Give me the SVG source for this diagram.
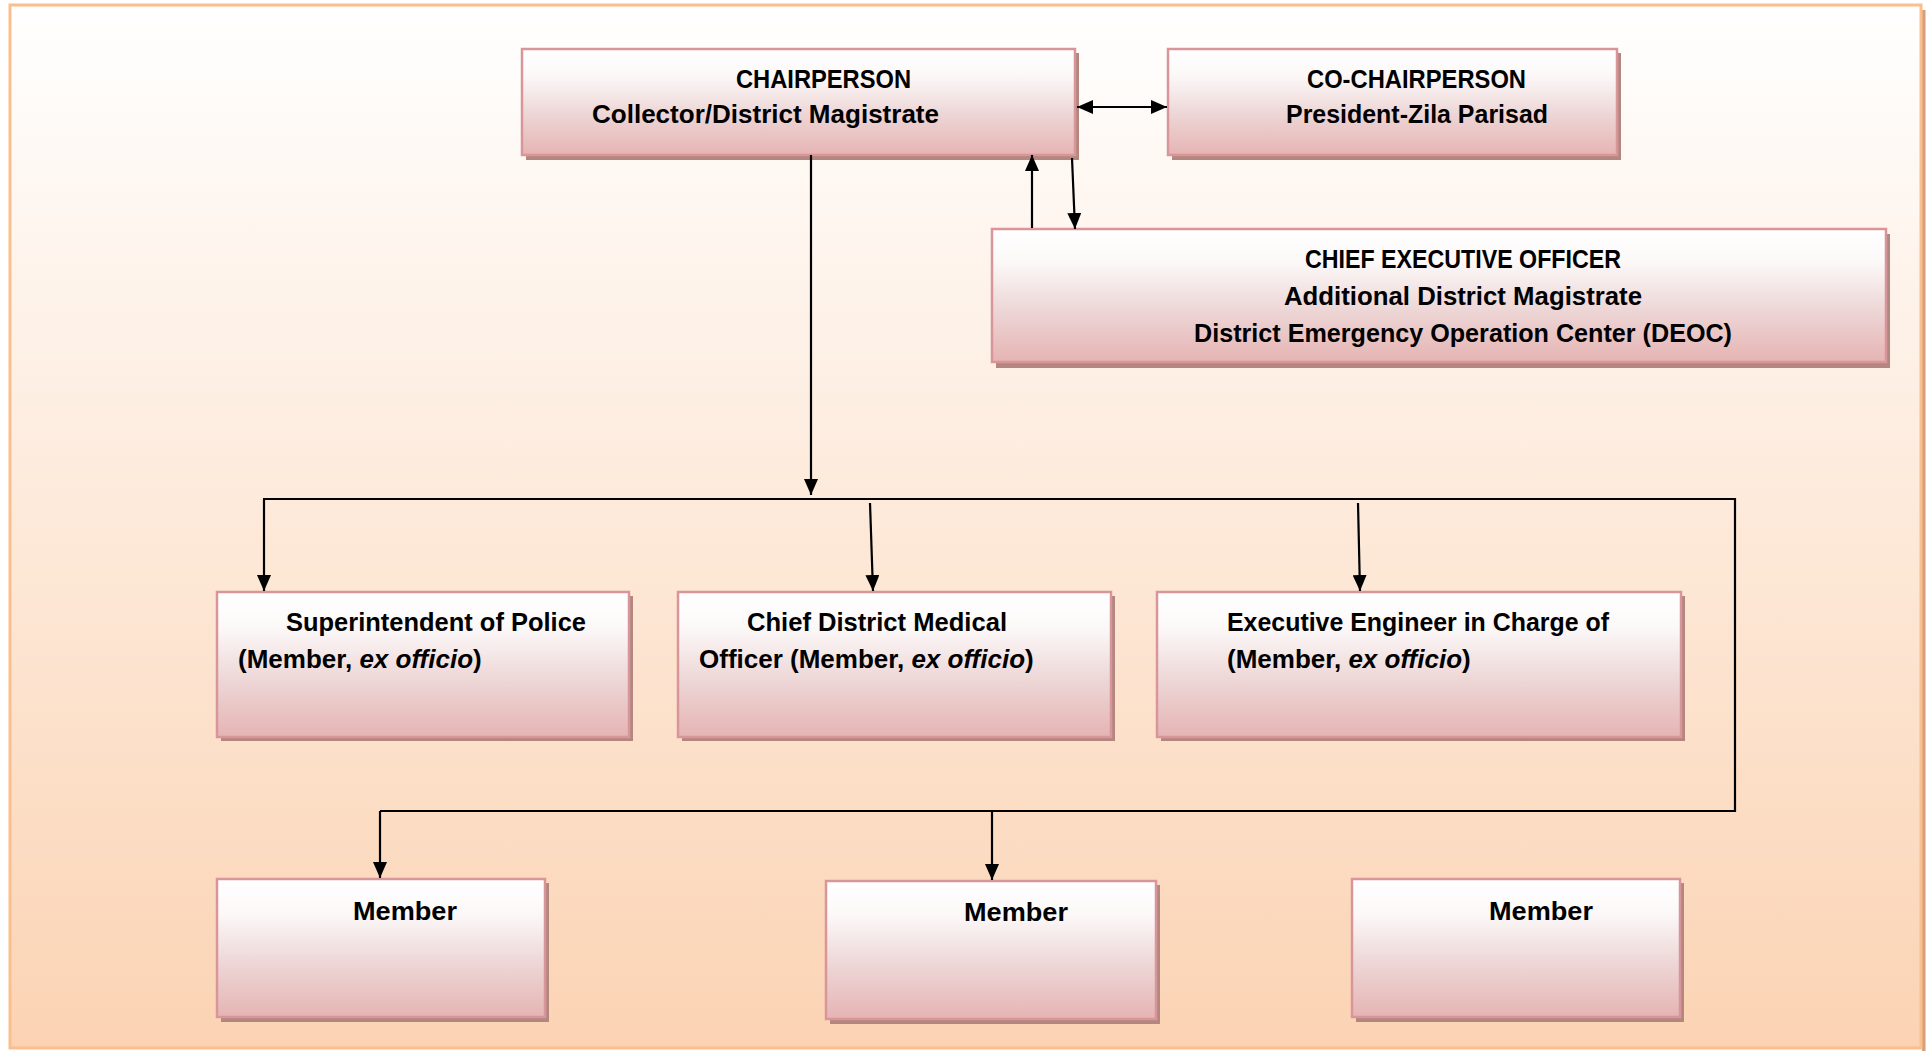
<svg xmlns="http://www.w3.org/2000/svg" width="1930" height="1051" viewBox="0 0 1930 1051">
  <defs>
    <linearGradient id="bg" x1="0" y1="0" x2="0" y2="1">
      <stop offset="0" stop-color="#ffffff"/>
      <stop offset="1" stop-color="#fbd3b3"/>
    </linearGradient>
    <linearGradient id="boxfill" x1="0" y1="0" x2="0" y2="1">
      <stop offset="0" stop-color="#ffffff"/>
      <stop offset="0.25" stop-color="#fcf8f8"/>
      <stop offset="0.6" stop-color="#eed7d7"/>
      <stop offset="1" stop-color="#e5b4b3"/>
    </linearGradient>
    <marker id="arr" viewBox="0 0 16 14" refX="16" refY="7" markerWidth="16" markerHeight="14" markerUnits="userSpaceOnUse" orient="auto-start-reverse">
      <path d="M0,0 L16,7 L0,14 z" fill="#000"/>
    </marker>
    <style>
      .shadow { fill: #b3877f; }
      .box { fill: url(#boxfill); stroke: #d9969a; stroke-width: 2.5; }
      .t { font-family: "Liberation Sans", Arial, sans-serif; font-weight: bold; font-size: 26px; fill: #000; }
      .it { font-style: italic; }
      .conn { stroke: #000; stroke-width: 2.2; fill: none; }
      .arrow { marker-end: url(#arr); }
    </style>
  </defs>

  <!-- page background and frame -->
  <rect x="1922" y="10" width="3.5" height="1041" fill="#d49f7c"/>
  <rect x="10" y="5" width="1911" height="1043" fill="url(#bg)" stroke="#fbbf8e" stroke-width="3"/>

  <g id="chairperson">
    <rect class="shadow" x="526" y="53" width="553" height="107"/>
    <rect class="box" x="522" y="49" width="553" height="106"/>
    <text class="t" x="736" y="88" textLength="175" lengthAdjust="spacingAndGlyphs">CHAIRPERSON</text>
    <text class="t" x="592" y="123" textLength="347" lengthAdjust="spacingAndGlyphs">Collector/District Magistrate</text>
  </g>

  <g id="co-chairperson">
    <rect class="shadow" x="1172" y="53" width="449" height="107"/>
    <rect class="box" x="1168" y="49" width="449" height="106"/>
    <text class="t" x="1307" y="88" textLength="219" lengthAdjust="spacingAndGlyphs">CO-CHAIRPERSON</text>
    <text class="t" x="1286" y="123" textLength="262" lengthAdjust="spacingAndGlyphs">President-Zila Parisad</text>
  </g>

  <g id="ceo">
    <rect class="shadow" x="996" y="234" width="894" height="134"/>
    <rect class="box" x="992" y="229" width="894" height="133"/>
    <text class="t" x="1305" y="268" textLength="316" lengthAdjust="spacingAndGlyphs">CHIEF EXECUTIVE OFFICER</text>
    <text class="t" x="1284" y="305" textLength="358" lengthAdjust="spacingAndGlyphs">Additional District Magistrate</text>
    <text class="t" x="1194" y="342" textLength="538" lengthAdjust="spacingAndGlyphs">District Emergency Operation Center (DEOC)</text>
  </g>

  <g id="superintendent">
    <rect class="shadow" x="221" y="596" width="412" height="145"/>
    <rect class="box" x="217" y="592" width="412" height="145"/>
    <text class="t" x="286" y="631" textLength="300" lengthAdjust="spacingAndGlyphs">Superintendent of Police</text>
    <text class="t" x="238" y="668">(Member, <tspan class="it">ex officio</tspan>)</text>
  </g>

  <g id="cdmo">
    <rect class="shadow" x="682" y="596" width="433" height="145"/>
    <rect class="box" x="678" y="592" width="433" height="145"/>
    <text class="t" x="747" y="631" textLength="260" lengthAdjust="spacingAndGlyphs">Chief District Medical</text>
    <text class="t" x="699" y="668">Officer (Member, <tspan class="it">ex officio</tspan>)</text>
  </g>

  <g id="executive-engineer">
    <rect class="shadow" x="1161" y="596" width="524" height="145"/>
    <rect class="box" x="1157" y="592" width="524" height="145"/>
    <text class="t" x="1227" y="631" textLength="382" lengthAdjust="spacingAndGlyphs">Executive Engineer in Charge of</text>
    <text class="t" x="1227" y="668">(Member, <tspan class="it">ex officio</tspan>)</text>
  </g>

  <g id="member-1">
    <rect class="shadow" x="221" y="883" width="328" height="139"/>
    <rect class="box" x="217" y="879" width="328" height="138"/>
    <text class="t" x="353" y="920" textLength="104" lengthAdjust="spacingAndGlyphs">Member</text>
  </g>

  <g id="member-2">
    <rect class="shadow" x="830" y="885" width="330" height="139"/>
    <rect class="box" x="826" y="881" width="330" height="138"/>
    <text class="t" x="964" y="921" textLength="104" lengthAdjust="spacingAndGlyphs">Member</text>
  </g>

  <g id="member-3">
    <rect class="shadow" x="1356" y="883" width="328" height="139"/>
    <rect class="box" x="1352" y="879" width="328" height="138"/>
    <text class="t" x="1489" y="920" textLength="104" lengthAdjust="spacingAndGlyphs">Member</text>
  </g>

  <g id="connectors">
    <line class="conn" x1="1077" y1="107" x2="1167" y2="107" marker-start="url(#arr)" marker-end="url(#arr)"/>
    <line class="conn arrow" x1="1032" y1="228" x2="1032" y2="155"/>
    <line class="conn arrow" x1="1072" y1="158" x2="1075" y2="229"/>
    <line class="conn arrow" x1="811" y1="155" x2="811" y2="495"/>
    <polyline class="conn" points="263,499 1735,499 1735,811 380,811"/>
    <line class="conn arrow" x1="264" y1="499" x2="264" y2="591"/>
    <line class="conn arrow" x1="870" y1="503" x2="873" y2="591"/>
    <line class="conn arrow" x1="1358" y1="503" x2="1360" y2="591"/>
    <line class="conn arrow" x1="380" y1="811" x2="380" y2="878"/>
    <line class="conn arrow" x1="992" y1="811" x2="992" y2="880"/>
  </g>
</svg>
